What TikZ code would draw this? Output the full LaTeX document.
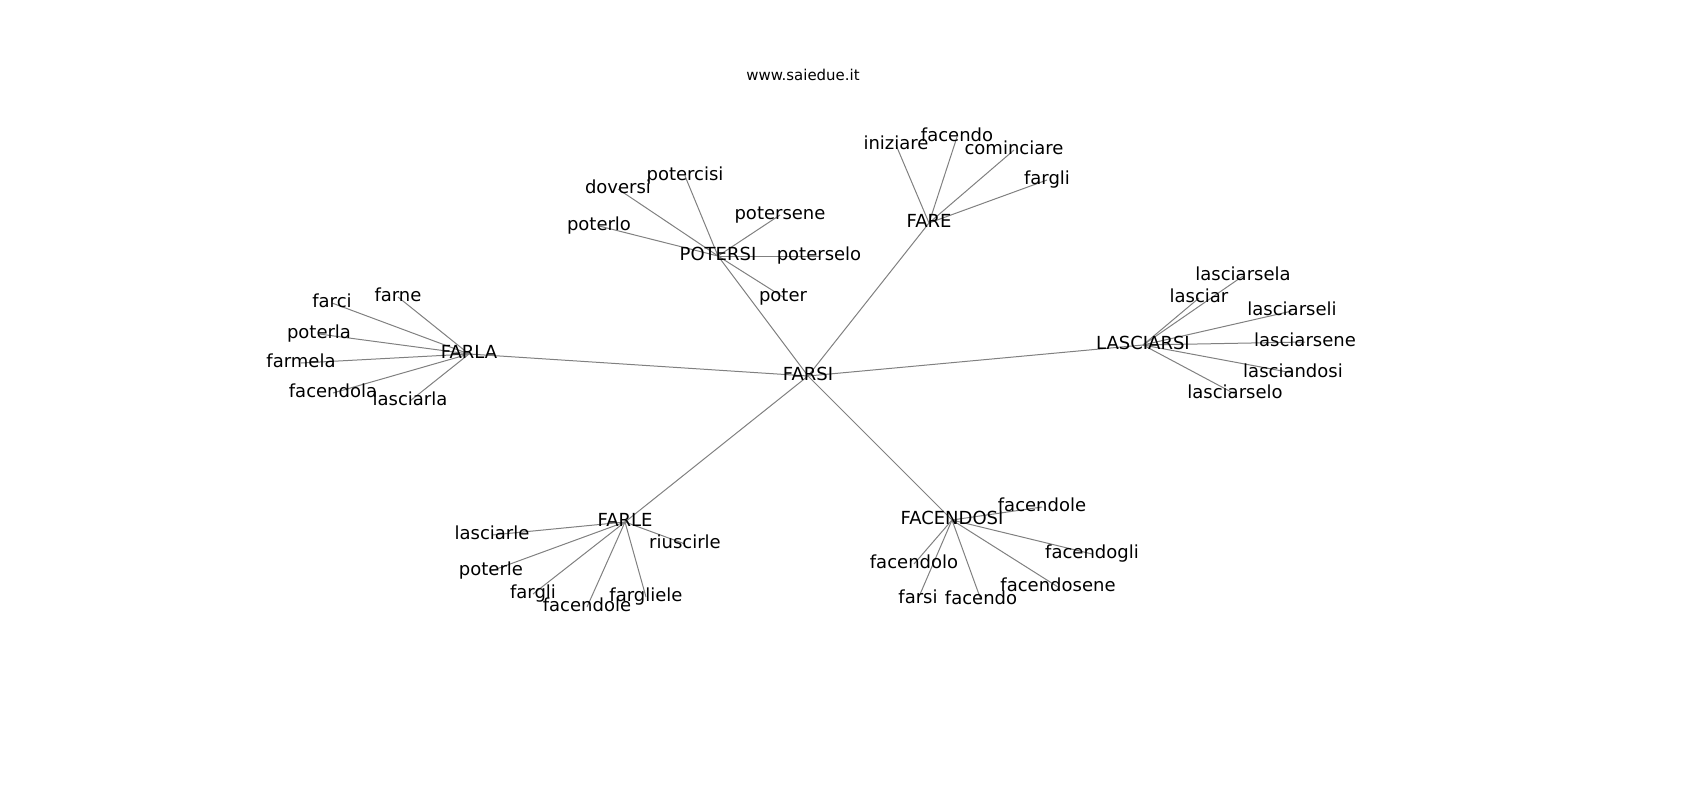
\documentclass[tikz,border=0pt]{standalone}
\usepackage{fontspec}
\setmainfont{DejaVu Sans}
\usetikzlibrary{backgrounds}
\begin{document}
\begin{tikzpicture}[x=0.75pt,y=-0.75pt,
  lbl/.style={inner sep=0pt, font=\fontsize{13.5}{16}\selectfont, text height=1.6ex, text depth=0.35ex},
  ttl/.style={inner sep=0pt, font=\fontsize{11.2}{13}\selectfont},
  edge/.style={draw=black!50, line width=0.75pt}]
\useasboundingbox (0,0) rectangle (1700,800);
\node[ttl] (title) at (803,75) {www.saiedue.it};
% hubs
\node[lbl] (farsi) at (808,376) {FARSI};
\node[lbl] (potersi) at (718,256) {POTERSI};
\node[lbl] (fare) at (929,223) {FARE};
\node[lbl] (farla) at (469,354) {FARLA};
\node[lbl] (lasciarsi) at (1143,345) {LASCIARSI};
\node[lbl] (farle) at (625,522) {FARLE};
\node[lbl] (facendosi) at (952,520) {FACENDOSI};
% FARE leaves
\node[lbl] (iniziare) at (896,145) {iniziare};
\node[lbl] (facendoA) at (957,137) {facendo};
\node[lbl] (cominciare) at (1014,150) {cominciare};
\node[lbl] (fargliA) at (1047,180) {fargli};
% POTERSI leaves
\node[lbl] (potercisi) at (685,176) {potercisi};
\node[lbl] (doversi) at (618,189) {doversi};
\node[lbl] (potersene) at (780,215) {potersene};
\node[lbl] (poterlo) at (599,226) {poterlo};
\node[lbl] (poterselo) at (819,256) {poterselo};
\node[lbl] (poter) at (783,297) {poter};
% FARLA leaves
\node[lbl] (farci) at (332,303) {farci};
\node[lbl] (farne) at (398,297) {farne};
\node[lbl] (poterla) at (319,334) {poterla};
\node[lbl] (farmela) at (301,363) {farmela};
\node[lbl] (facendola) at (333,393) {facendola};
\node[lbl] (lasciarla) at (410,401) {lasciarla};
% LASCIARSI leaves
\node[lbl] (lasciarsela) at (1243,276) {lasciarsela};
\node[lbl] (lasciar) at (1199,298) {lasciar};
\node[lbl] (lasciarseli) at (1292,311) {lasciarseli};
\node[lbl] (lasciarsene) at (1305,342) {lasciarsene};
\node[lbl] (lasciandosi) at (1293,373) {lasciandosi};
\node[lbl] (lasciarselo) at (1235,394) {lasciarselo};
% FARLE leaves
\node[lbl] (lasciarle) at (492,535) {lasciarle};
\node[lbl] (riuscirle) at (685,544) {riuscirle};
\node[lbl] (poterle) at (491,571) {poterle};
\node[lbl] (fargliB) at (533,594) {fargli};
\node[lbl] (facendoleB) at (587,607) {facendole};
\node[lbl] (fargliele) at (646,597) {fargliele};
% FACENDOSI leaves
\node[lbl] (facendole) at (1042,507) {facendole};
\node[lbl] (facendogli) at (1092,554) {facendogli};
\node[lbl] (facendolo) at (914,564) {facendolo};
\node[lbl] (facendosene) at (1058,587) {facendosene};
\node[lbl] (farsiB) at (918,599) {farsi};
\node[lbl] (facendoB) at (981,600) {facendo};
\begin{pgfonlayer}{background}
\foreach \a/\b in {farsi/potersi,farsi/fare,farsi/farla,farsi/lasciarsi,farsi/farle,farsi/facendosi,
  fare/iniziare,fare/facendoA,fare/cominciare,fare/fargliA,
  potersi/potercisi,potersi/doversi,potersi/potersene,potersi/poterlo,potersi/poterselo,potersi/poter,
  farla/farci,farla/farne,farla/poterla,farla/farmela,farla/facendola,farla/lasciarla,
  lasciarsi/lasciarsela,lasciarsi/lasciar,lasciarsi/lasciarseli,lasciarsi/lasciarsene,lasciarsi/lasciandosi,lasciarsi/lasciarselo,
  farle/lasciarle,farle/riuscirle,farle/poterle,farle/fargliB,farle/facendoleB,farle/fargliele,
  facendosi/facendole,facendosi/facendogli,facendosi/facendolo,facendosi/facendosene,facendosi/farsiB,facendosi/facendoB}
  \draw[edge] (\a.center) -- (\b.center);
\end{pgfonlayer}
\end{tikzpicture}
\end{document}
